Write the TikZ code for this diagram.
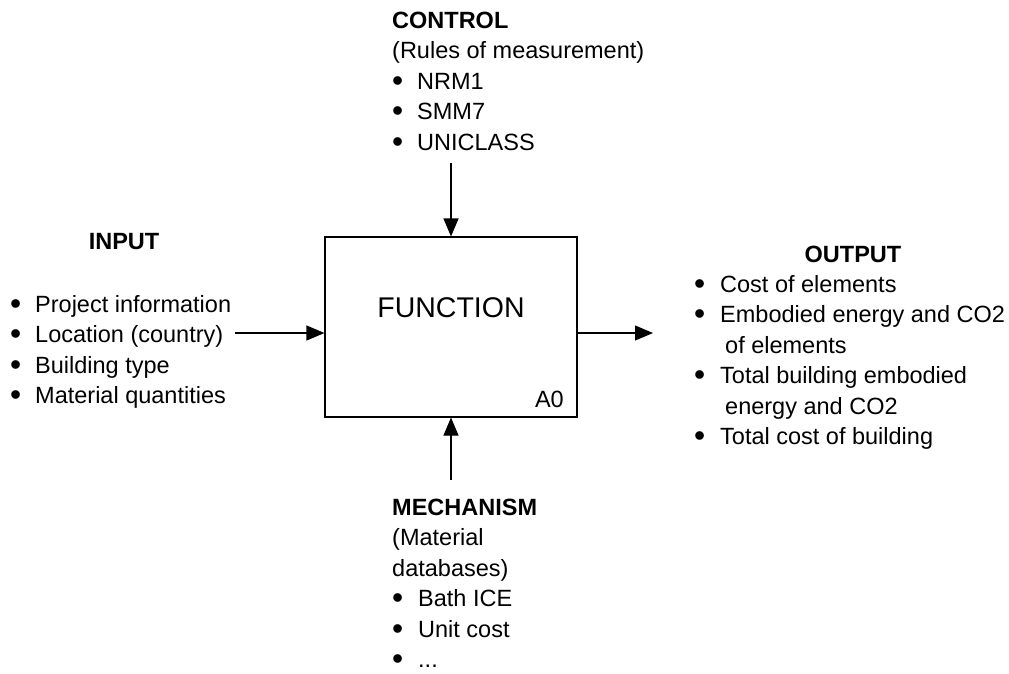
\documentclass[tikz,border=0pt]{standalone}
\usepackage{fontspec}
\setmainfont{Liberation Sans}
\usetikzlibrary{arrows.meta}
% list bullet, a little heavier than the plain text bullet
\newcommand{\itemdot}{\raisebox{-2pt}{\scalebox{1.35}{\textbullet}}}
\begin{document}
\begin{tikzpicture}[x=1pt,y=-1pt,
  txt/.style={inner sep=0pt, font=\fontsize{23.5}{30.5}\selectfont},
  head/.style={inner sep=0pt, font=\fontsize{23.5}{30.5}\selectfont\bfseries},
  flow/.style={line width=1.1pt, -{Triangle[length=18pt,width=15pt]}},
  fnbox/.style={draw, line width=1.1pt, minimum width=252pt, minimum height=180pt, inner sep=0pt}]
\useasboundingbox (0,0) rectangle (1009,673);

% central activity box
\node[fnbox] (fn) at (451,327) {};
\node[inner sep=0pt, font=\fontsize{28.5}{34}\selectfont, anchor=base] (fnlabel) at (451,317) {FUNCTION};
\node[txt, anchor=base east] (a0) at (564,407) {A0};

% control (top)
\node[txt, anchor=base west] (ctl) at (392,28) {%
  \begin{tabular}[t]{@{}p{25pt}@{}l@{}}
  \multicolumn{2}{@{}l@{}}{\bfseries CONTROL}\\
  \multicolumn{2}{@{}l@{}}{(Rules of measurement)}\\
  \itemdot & NRM1\\
  \itemdot & SMM7\\
  \itemdot & UNICLASS
  \end{tabular}};

% input (left)
\node[head, anchor=base] (inhead) at (124,249) {INPUT};
\node[txt, anchor=base west] (inlist) at (10,312) {%
  \begin{tabular}[t]{@{}p{25pt}@{}l@{}}
  \itemdot & Project information\\
  \itemdot & Location (country)\\
  \itemdot & Building type\\
  \itemdot & Material quantities
  \end{tabular}};

% output (right)
\node[head, anchor=base] (outhead) at (853,262) {OUTPUT};
\node[txt, anchor=base west] (outlist) at (694,292) {%
  \begin{tabular}[t]{@{}p{26pt}@{}l@{}}
  \itemdot & Cost of elements\\
  \itemdot & Embodied energy and CO2\\
   & \hspace{5pt}of elements\\
  \itemdot & Total building embodied\\
   & \hspace{5pt}energy and CO2\\
  \itemdot & Total cost of building
  \end{tabular}};

% mechanism (bottom)
\node[txt, anchor=base west] (mech) at (392,515) {%
  \begin{tabular}[t]{@{}p{26pt}@{}l@{}}
  \multicolumn{2}{@{}l@{}}{\bfseries MECHANISM}\\
  \multicolumn{2}{@{}l@{}}{(Material}\\
  \multicolumn{2}{@{}l@{}}{databases)}\\
  \itemdot & Bath ICE\\
  \itemdot & Unit cost\\
  \itemdot & ...
  \end{tabular}};

% connectors
\coordinate (ctlstart) at (451,163);
\coordinate (instart) at (235,333);
\coordinate (outend) at (653,333);
\coordinate (mechstart) at (451,480);

\draw[flow] (ctlstart) -- (fn.north);
\draw[flow] (instart) -- (instart -| fn.west);
\draw[flow] (outend -| fn.east) -- (outend);
\draw[flow] (mechstart) -- (fn.south);
\end{tikzpicture}
\end{document}
